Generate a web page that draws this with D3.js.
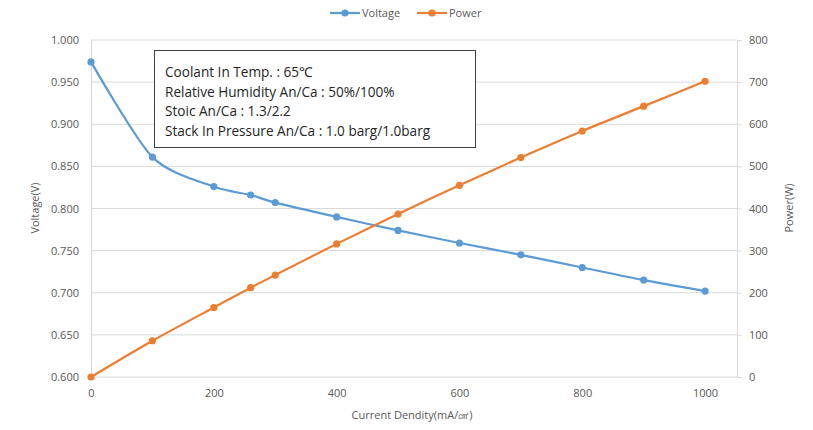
<!DOCTYPE html>
<html>
<head>
<meta charset="utf-8">
<script src="https://cdn.jsdelivr.net/npm/d3@7"></script>
<style>
  body { margin: 0; background: #fff; overflow: hidden; }
  svg { display: block; }
  text { font-family: "Open Sans", "Noto Sans", sans-serif; }
</style>
</head>
<body>
<div id="chart"></div>
<script>
const current = [0, 100, 200, 260, 300, 400, 500, 600, 700, 800, 900, 1000];
const voltage = [0.974, 0.861, 0.826, 0.816, 0.807, 0.790, 0.774, 0.759, 0.745, 0.730, 0.715, 0.702];
const power = [0, 86, 165, 212, 242, 316, 387, 455, 521, 584, 643, 702];
const noteLines = [
  "Coolant In Temp. : 65\u2103",
  "Relative Humidity An/Ca : 50%/100%",
  "Stoic An/Ca : 1.3/2.2",
  "Stack In Pressure An/Ca : 1.0 barg/1.0barg"
];

const width = 813, height = 430;
const margin = { top: 40, right: 76, bottom: 53, left: 91 };
const innerWidth = width - margin.left - margin.right;
const innerHeight = height - margin.top - margin.bottom;
const blue = "#5b9bd5", orange = "#ed7d31", grey = "#595959";

const svg = d3.select("#chart").append("svg").attr("width", width).attr("height", height);
const chart = svg.append("g").attr("transform", `translate(${margin.left},${margin.top})`);

const xScale = d3.scaleLinear().domain([0, 1052]).range([0, innerWidth]);
const yLeft = d3.scaleLinear().domain([0.6, 1.0]).range([innerHeight, 0]);
const yRight = d3.scaleLinear().domain([0, 800]).range([innerHeight, 0]);

// gridlines
chart.append("g")
  .selectAll("line").data(yLeft.ticks(8)).join("line")
  .attr("x1", 0).attr("x2", innerWidth)
  .attr("y1", d => yLeft(d)).attr("y2", d => yLeft(d))
  .attr("stroke", "#d9d9d9").attr("stroke-width", 1);

const leftAxis = chart.append("g")
  .call(d3.axisLeft(yLeft).ticks(8).tickFormat(d3.format(".3f")).tickSize(0).tickPadding(12));
const rightAxis = chart.append("g").attr("transform", `translate(${innerWidth},0)`)
  .call(d3.axisRight(yRight).ticks(8).tickSize(5).tickSizeOuter(5).tickPadding(7));
const bottomAxis = chart.append("g").attr("transform", `translate(0,${innerHeight})`)
  .call(d3.axisBottom(xScale).tickValues([0, 200, 400, 600, 800, 1000])
    .tickFormat(d3.format("d")).tickSize(0).tickPadding(12));

[leftAxis, rightAxis, bottomAxis].forEach(a => {
  a.selectAll("path").attr("stroke", "#d9d9d9");
  a.selectAll("line").attr("stroke", "#d9d9d9");
  a.selectAll("text").attr("fill", grey).style("font-size", "11px");
});
bottomAxis.select("path").remove();

// lines
const vLine = d3.line().x((d, i) => xScale(current[i])).y(d => yLeft(d)).curve(d3.curveCardinal.tension(0.2));
const pLine = d3.line().x((d, i) => xScale(current[i])).y(d => yRight(d)).curve(d3.curveCardinal.tension(0.2));

chart.append("path").datum(voltage).attr("d", vLine)
  .attr("fill", "none").attr("stroke", blue).attr("stroke-width", 2.2);
chart.append("path").datum(power).attr("d", pLine)
  .attr("fill", "none").attr("stroke", orange).attr("stroke-width", 2.2);

chart.append("g").selectAll("circle").data(voltage).join("circle")
  .attr("cx", (d, i) => xScale(current[i])).attr("cy", d => yLeft(d))
  .attr("r", 3.6).attr("fill", blue);
chart.append("g").selectAll("circle").data(power).join("circle")
  .attr("cx", (d, i) => xScale(current[i])).attr("cy", d => yRight(d))
  .attr("r", 3.6).attr("fill", orange);

// axis titles
svg.append("text").attr("transform", "translate(39,208) rotate(-90)")
  .attr("text-anchor", "middle").attr("fill", grey).style("font-size", "11px").text("Voltage(V)");
svg.append("text").attr("transform", "translate(793,208) rotate(-90)")
  .attr("text-anchor", "middle").attr("fill", grey).style("font-size", "11px").text("Power(W)");
svg.append("text").attr("x", 412).attr("y", 419)
  .attr("text-anchor", "middle").attr("fill", grey).style("font-size", "11px")
  .text("Current Dendity(mA/\u33A0)");

// legend
const legend = svg.append("g").attr("transform", "translate(0,13)");
[["Voltage", blue, 330], ["Power", orange, 417]].forEach(([name, color, x]) => {
  legend.append("line").attr("x1", x).attr("x2", x + 30).attr("y1", 0).attr("y2", 0)
    .attr("stroke", color).attr("stroke-width", 2.2);
  legend.append("circle").attr("cx", x + 15).attr("cy", 0).attr("r", 3.6).attr("fill", color);
  legend.append("text").attr("x", x + 32).attr("y", 4).attr("fill", grey)
    .style("font-size", "11px").text(name);
});

// annotation box
const note = svg.append("g");
note.append("rect").attr("x", 154.5).attr("y", 50.5).attr("width", 321).attr("height", 97)
  .attr("fill", "#fff").attr("stroke", "#404040").attr("stroke-width", 1);
note.selectAll("text").data(noteLines).join("text")
  .attr("x", 165).attr("y", (d, i) => 77 + i * 19.5)
  .attr("fill", "#262626").style("font-size", "13.6px").text(d => d);
</script>
</body>
</html>
